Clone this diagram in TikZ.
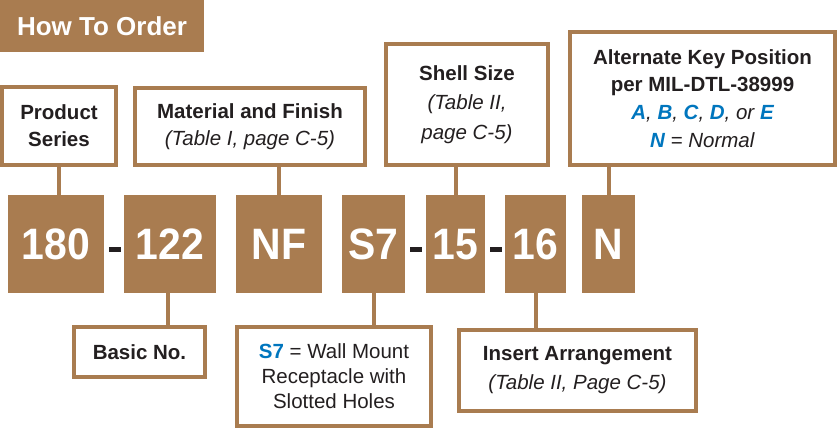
\documentclass[tikz,border=0pt]{standalone}
\usepackage{fontspec}
\setmainfont{Liberation Sans}
\newfontfamily\codefont[FakeStretch=0.93]{Liberation Sans}
\definecolor{brn}{RGB}{169,124,80}
\definecolor{txt}{RGB}{35,31,32}
\definecolor{blu}{RGB}{0,118,190}
\tikzset{
  infobox/.style={draw=brn, line width=4pt, fill=white, inner sep=0pt, align=center,
    text=txt, font=\fontsize{20.5}{27}\selectfont},
  codebox/.style={fill=brn, inner sep=0pt, outer sep=0pt, minimum height=98pt,
    text height=31.5pt, text depth=0pt,
    text=white, font=\codefont\bfseries\fontsize{44}{44}\selectfont},
  dashbox/.style={fill=txt, inner sep=0pt, outer sep=0pt, minimum width=12pt, minimum height=5pt},
  conn/.style={draw=brn, line width=4pt}
}
\newcommand{\bl}[1]{\textcolor{blu}{\textbf{#1}}}
\begin{document}
\begin{tikzpicture}[x=1pt,y=-1pt]
\path[use as bounding box] (0,0) rectangle (840,429);

% title
\node[fill=brn, minimum width=204pt, minimum height=52pt, inner sep=0pt, outer sep=0pt,
  text=white, font=\bfseries\fontsize{26}{30}\selectfont] (title) at (102,26) {How To Order};

% upper boxes
\node[infobox, minimum width=114pt, minimum height=78pt] (ps) at (59,126)
  {\textbf{Product}\\\textbf{Series}};
\node[infobox, minimum width=230pt, minimum height=77pt] (mf) at (250,126.5)
  {\textbf{Material and Finish}\\\textit{(Table I, page C-5)}};
\node[infobox, minimum width=162pt, minimum height=121pt,
  font=\fontsize{20.5}{29.5}\selectfont] (ss) at (467,104.5)
  {\textbf{Shell Size}\\\textit{(Table II,}\\\textit{page C-5)}};
\node[infobox, minimum width=265pt, minimum height=133pt,
  font=\fontsize{20.5}{27.7}\selectfont] (ak) at (702.5,98.5)
  {\textbf{Alternate Key Position}\\\textbf{per MIL-DTL-38999}\\
   \textit{\bl{A}, \bl{B}, \bl{C}, \bl{D}, or \bl{E}}\\
   \textit{\bl{N} = Normal}};

% code boxes
\node[codebox, minimum width=96pt] (c180) at (56,244) {180};
\node[codebox, minimum width=92pt] (c122) at (170,244) {122};
\node[codebox, minimum width=86pt] (cnf) at (279,244) {NF};
\node[codebox, minimum width=63pt] (cs7) at (373.5,244) {S7};
\node[codebox, minimum width=59pt] (c15) at (455.5,244) {15};
\node[codebox, minimum width=61pt] (c16) at (535.5,244) {16};
\node[codebox, minimum width=53pt] (cn) at (608.5,244) {N};
\node[dashbox] (d1) at (115,249.5) {};
\node[dashbox] (d2) at (416,249.5) {};
\node[dashbox] (d3) at (496,249.5) {};

% lower boxes
\node[infobox, minimum width=131pt, minimum height=50pt] (bn) at (139.5,352)
  {\textbf{Basic No.}};
\node[infobox, minimum width=194pt, minimum height=99pt,
  font=\fontsize{20.5}{25}\selectfont] (s7d) at (334,376.5)
  {\bl{S7} = Wall Mount\\Receptacle with\\Slotted Holes};
\node[infobox, minimum width=237pt, minimum height=81pt,
  font=\fontsize{20.5}{29}\selectfont] (ia) at (577.5,370.5)
  {\textbf{Insert Arrangement}\\\textit{(Table II, Page C-5)}};

% connectors
\draw[conn] (ps.south) -- (ps.south |- c180.north);
\draw[conn] (cnf.north) -- (cnf.north |- mf.south);
\draw[conn] (c15.north) -- (c15.north |- ss.south);
\draw[conn] (cn.north) -- (cn.north |- ak.south);
\draw[conn] ([xshift=-2pt]c122.south) -- ([xshift=-2pt]c122.south |- bn.north);
\draw[conn] (cs7.south) -- (cs7.south |- s7d.north);
\draw[conn] (c16.south) -- (c16.south |- ia.north);
\end{tikzpicture}
\end{document}
